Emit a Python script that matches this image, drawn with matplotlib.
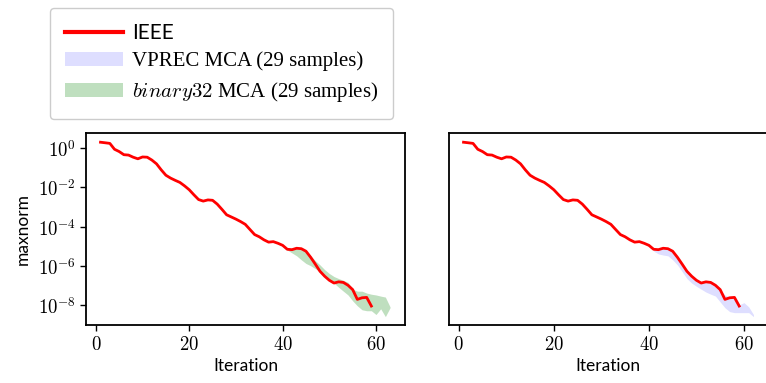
import math

import matplotlib
matplotlib.use("Agg")
import matplotlib.pyplot as plt
from matplotlib.ticker import FixedLocator, FuncFormatter, NullLocator

plt.rcParams["mathtext.fontset"] = "cm"
plt.rcParams["font.family"] = ["Lato", "DejaVu Sans"]

# IEEE run, one value per iteration (1..59)
ieee_iter = list(range(1, 60))
ieee_norm = [2.04, 1.91, 1.78, 0.89, 0.68, 0.47, 0.45, 0.35, 0.29, 0.36,
             0.35, 0.25, 0.16, 0.079, 0.042, 0.030, 0.023, 0.018, 0.012, 7.6e-3,
             4.2e-3, 2.4e-3, 2.0e-3, 2.3e-3, 2.2e-3, 1.4e-3, 7.6e-4, 4.0e-4, 3.1e-4, 2.4e-4,
             1.8e-4, 1.3e-4, 7.1e-5, 3.9e-5, 3.0e-5, 2.1e-5, 1.6e-5, 1.7e-5, 1.4e-5, 1.1e-5,
             6.9e-6, 6.6e-6, 7.8e-6, 7.4e-6, 5.5e-6, 2.7e-6, 1.2e-6, 5.2e-7, 2.9e-7, 1.8e-7,
             1.3e-7, 1.5e-7, 1.4e-7, 1.0e-7, 6.0e-8, 1.9e-8, 2.3e-8, 2.4e-8, 8.7e-9]

# binary32 MCA envelope (min / max over 29 samples), iterations 41..63
b32_iter = list(range(41, 64))
b32_lo = [6.3e-6, 4.5e-6, 3.2e-6, 2.0e-6, 1.3e-6, 1.0e-6, 7.1e-7, 5.0e-7, 2.8e-7, 1.8e-7,
          1.3e-7, 7.9e-8, 5.0e-8, 3.2e-8, 1.6e-8, 8.9e-9, 5.6e-9, 5.0e-9, 5.0e-9, 3.2e-9,
          6.3e-9, 2.5e-9, 7.1e-9]
b32_hi = [7.1e-6, 7.1e-6, 7.9e-6, 7.1e-6, 5.0e-6, 3.2e-6, 1.8e-6, 1.1e-6, 6.3e-7, 4.0e-7,
          2.8e-7, 2.2e-7, 1.8e-7, 1.4e-7, 6.3e-8, 5.0e-8, 5.0e-8, 4.0e-8, 3.5e-8, 3.2e-8,
          2.8e-8, 2.5e-8, 7.9e-9]

# VPREC MCA envelope, iterations 41..62
vp_iter = list(range(41, 63))
vp_lo = [5.6e-6, 4.0e-6, 3.5e-6, 3.2e-6, 2.0e-6, 1.1e-6, 5.0e-7, 2.2e-7, 1.3e-7, 8.9e-8,
         6.3e-8, 4.5e-8, 3.5e-8, 2.8e-8, 1.4e-8, 7.1e-9, 4.5e-9, 4.0e-9, 4.0e-9, 4.0e-9,
         4.0e-9, 2.5e-9]
vp_hi = [7.1e-6, 7.1e-6, 7.9e-6, 7.6e-6, 5.0e-6, 2.5e-6, 1.1e-6, 5.0e-7, 2.8e-7, 1.6e-7,
         1.3e-7, 1.4e-7, 1.4e-7, 1.0e-7, 5.6e-8, 3.2e-8, 2.5e-8, 2.0e-8, 1.0e-8, 1.3e-8,
         7.9e-9, 3.2e-9]

y_ticks = [1e0, 1e-2, 1e-4, 1e-6, 1e-8]
x_ticks = [0, 20, 40, 60]

fig = plt.figure(figsize=(7.66, 3.83), dpi=100)
ax1 = fig.add_axes([0.1123, 0.1514, 0.4164, 0.5013])
ax2 = fig.add_axes([0.5862, 0.1514, 0.4145, 0.5013], sharey=ax1)


def log_label(v, pos):
    return r"$10^{%d}$" % round(math.log10(v))


for ax in (ax1, ax2):
    ax.set_yscale("log")
    ax.yaxis.set_major_locator(FixedLocator(y_ticks))
    ax.yaxis.set_minor_locator(NullLocator())
    ax.yaxis.set_major_formatter(FuncFormatter(log_label))
    ax.xaxis.set_major_locator(FixedLocator(x_ticks))
    ax.xaxis.set_major_formatter(FuncFormatter(lambda v, p: r"$%d$" % v))
    ax.tick_params(labelsize=13.5, width=1.0, length=4)
    for s in ax.spines.values():
        s.set_linewidth(1.3)
    ax.set_xlabel("Iteration", fontsize=12.5, labelpad=3)

band_b32 = ax1.fill_between(b32_iter, b32_lo, b32_hi, color="green", alpha=0.25, lw=0)
line_ieee, = ax1.plot(ieee_iter, ieee_norm, color="red", lw=2.0)
band_vp = ax2.fill_between(vp_iter, vp_lo, vp_hi, color="blue", alpha=0.13, lw=0)
ax2.plot(ieee_iter, ieee_norm, color="red", lw=2.0)

ax1.set_xlim(-2.1, 66.2)
ax2.set_xlim(-2.05, 64.75)
ax1.set_ylim(10 ** -9.03, 10 ** 0.78)
ax1.set_ylabel("maxnorm", fontsize=12.5, labelpad=5)
ax2.tick_params(axis="y", left=False, labelleft=False)

leg = fig.legend([line_ieee, band_vp, band_b32],
                 ["IEEE", "VPREC MCA (29 samples)", r"$binary32$ MCA (29 samples)"],
                 loc="upper left", bbox_to_anchor=(50 / 766, 1 - 8 / 383),
                 borderaxespad=0, fontsize=15, handlelength=2.8,
                 labelspacing=0.42, handletextpad=0.42, borderpad=0.72,
                 framealpha=1, edgecolor="#cccccc", fancybox=True)
leg.get_lines()[0].set_linewidth(3)
for t in leg.get_texts()[1:]:
    t.set_family(["Liberation Serif", "DejaVu Serif"])

fig.savefig("out.png", dpi=100, facecolor="white")
